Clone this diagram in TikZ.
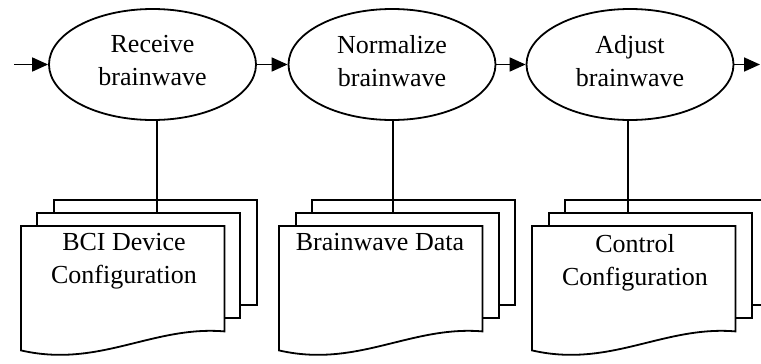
\documentclass[tikz,border=0pt]{standalone}
\usepackage{fontspec}
\setmainfont{Liberation Serif}
\usetikzlibrary{shapes.geometric,arrows.meta,calc}
\begin{document}
\begin{tikzpicture}[x=1pt,y=-1pt,
  lw/.style={line width=1.8pt},
  proc/.style={ellipse, draw, lw, minimum width=207pt, minimum height=111pt, inner sep=0pt, align=center, text depth=8pt, font=\fontsize{26}{33}\selectfont},
  page/.style={draw, lw, fill=white, minimum width=203pt, minimum height=105pt, inner sep=0pt, anchor=north west},
  frontarea/.style={minimum width=203pt, minimum height=105pt, inner sep=0pt, anchor=north west},
  docline/.style={draw, lw, fill=white},
  doctext/.style={anchor=base, align=center, inner sep=0pt, font=\fontsize{26}{33}\selectfont},
  flow/.style={lw, -{Triangle[length=16pt,width=14pt]}},
  link/.style={lw}
]
\clip (0,0) rectangle (761,364);
\fill[white] (0,0) rectangle (761,364);

% process ellipses
\node[proc] (e1) at (152.5,64.5) {Receive\\brainwave};
\node[proc] (e2) at (392,64.5) {Normalize\\brainwave};
\node[proc] (e3) at (630,64.5) {Adjust\\brainwave};
\coordinate (in) at (14,64.5);
\coordinate (out) at (760,64.5);

% stack 1
\node[page] (b1) at (53,199) {};
\node[page] (m1) at (36,212) {};
\node[frontarea] (f1) at (21,226) {};
\draw[docline] (f1.north west) -- (f1.north east) -- (f1.south east)
  .. controls ($(f1.south east)+(-72,-6)$) and ($(f1.south west)+(78,37)$) .. ($(f1.south west)+(0,19)$) -- cycle;
\node[doctext] (t1) at (124,283) {BCI Device\\Configuration};

% stack 2
\node[page] (b2) at (311,199) {};
\node[page] (m2) at (295,212) {};
\node[frontarea] (f2) at (279,226) {};
\draw[docline] (f2.north west) -- (f2.north east) -- (f2.south east)
  .. controls ($(f2.south east)+(-72,-6)$) and ($(f2.south west)+(78,37)$) .. ($(f2.south west)+(0,19)$) -- cycle;
\node[doctext] (t2) at (380,250) {Brainwave Data};

% stack 3
\node[page] (b3) at (564,199) {};
\node[page] (m3) at (548,212) {};
\node[frontarea] (f3) at (532,226) {};
\draw[docline] (f3.north west) -- (f3.north east) -- (f3.south east)
  .. controls ($(f3.south east)+(-72,-6)$) and ($(f3.south west)+(78,37)$) .. ($(f3.south west)+(0,19)$) -- cycle;
\node[doctext] (t3) at (635,285) {Control\\Configuration};

% connectors
\draw[flow] (in) -- (e1.west);
\draw[flow] (e1.east) -- (e2.west);
\draw[flow] (e2.east) -- (e3.west);
\draw[flow] (e3.east) -- (out);
\draw[link] ([xshift=4.5pt]e1.south) -- ([xshift=4.5pt]e1.south |- m1.north);
\draw[link] ([xshift=1pt]e2.south) -- ([xshift=1pt]e2.south |- m2.north);
\draw[link] ([xshift=-2pt]e3.south) -- ([xshift=-2pt]e3.south |- m3.north);
\end{tikzpicture}
\end{document}
